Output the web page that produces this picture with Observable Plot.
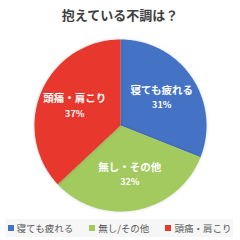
<!DOCTYPE html>
<html><head><meta charset="utf-8">
<script src="https://cdn.jsdelivr.net/npm/d3@7"></script>
<script src="https://cdn.jsdelivr.net/npm/@observablehq/plot@0.6"></script>
<style>
body{margin:0;background:#fff;font-family:"Noto Sans CJK JP","Noto Sans",sans-serif;width:240px;height:240px;overflow:hidden;}
#title{height:28px;line-height:30px;text-align:center;font-size:13px;font-weight:bold;color:#404040;}
#legend{position:absolute;left:6px;top:219px;width:227px;height:18px;background:#f6f6f6;display:flex;justify-content:center;align-items:center;font-size:9.5px;color:#595959;gap:16px;}
#legend span.sw{display:inline-block;width:6px;height:6px;margin-right:3px;vertical-align:middle;position:relative;top:-1px;}
#chart svg path{filter:drop-shadow(0 0 1.5px rgba(0,0,0,0.18));}
</style></head>
<body>
<div id="title">抱えている不調は？</div>
<div id="chart"></div>
<div id="legend"></div>
<script>
const categories = ["寝ても疲れる", "無し・その他", "頭痛・肩こり"];
const legendLabels = ["寝ても疲れる", "無し/その他", "頭痛・肩こり"];
const values = [31, 32, 37];
const colors = ["#4472C4", "#A2CA5E", "#E8372C"];

const total = d3.sum(values);
const pie = d3.pie().sort(null).value(d => d.value)(categories.map((c, i) => ({cat: c, value: values[i]})));

// polygon points for each slice (angles from data), drawn through x/y scales
const pts = [];
pie.forEach(s => {
  pts.push({cat: s.data.cat, x: 0, y: 0});
  const n = 120;
  for (let k = 0; k <= n; k++) {
    const a = s.startAngle + (s.endAngle - s.startAngle) * k / n;
    pts.push({cat: s.data.cat, x: Math.sin(a), y: Math.cos(a)});
  }
});
const labels = pie.map(s => {
  const a = (s.startAngle + s.endAngle) / 2;
  const r = 0.58;
  return {cat: s.data.cat, x: Math.sin(a) * r, y: Math.cos(a) * r, pct: Math.round(s.data.value / total * 100) + "%"};
});

const chart = Plot.plot({
  width: 240, height: 188,
  margin: 0,
  x: {domain: [-1, 1], range: [34, 206], axis: null},
  y: {domain: [-1, 1], range: [183, 11], axis: null},
  color: {domain: categories, range: colors},
  style: {fontFamily: '"Noto Sans CJK JP", sans-serif', background: "transparent"},
  marks: [
    Plot.line(pts, {x: "x", y: "y", z: "cat", fill: "cat", stroke: "none", curve: "linear-closed"}),
    Plot.text(labels, {x: "x", y: "y", text: "cat", dy: -7, fill: "white", fontWeight: "bold", fontSize: 10.5}),
    Plot.text(labels, {x: "x", y: "y", text: "pct", dy: 8, fill: "white", fontWeight: "bold", fontSize: 9})
  ]
});
document.getElementById("chart").appendChild(chart);

const lg = document.getElementById("legend");
legendLabels.forEach((l, i) => {
  const d = document.createElement("div");
  d.innerHTML = `<span class="sw" style="background:${colors[i]}"></span>${l}`;
  lg.appendChild(d);
});
</script>
</body></html>
